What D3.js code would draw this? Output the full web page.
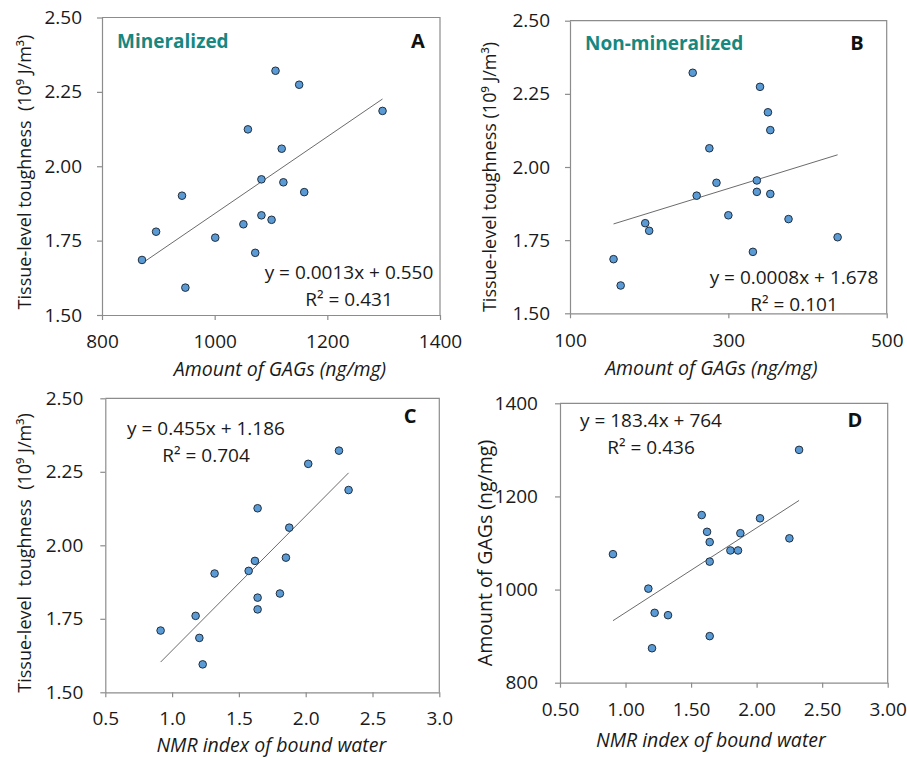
<!DOCTYPE html>
<html>
<head>
<meta charset="utf-8">
<script src="https://cdn.jsdelivr.net/npm/d3@7"></script>
<style>
  body { margin: 0; background: #fff; }
  text { font-family: "Open Sans", "Noto Sans", sans-serif; fill: #1a1a1a; white-space: pre; }
</style>
</head>
<body>
<div id="chart"></div>
<script>
// A: mineralized, GAGs vs toughness
var gagsA  = [1108, 1150, 1298, 1059, 1119, 1083, 1122, 1159, 942, 1083, 1101, 1051, 896, 1001, 1072, 871, 948];
var toughA = [2.321, 2.274, 2.186, 2.124, 2.059, 1.956, 1.946, 1.913, 1.901, 1.835, 1.820, 1.805, 1.780, 1.760, 1.709, 1.685, 1.592];
// B: non-mineralized, GAGs vs toughness
var gagsB  = [255, 340, 350, 353, 276, 285, 336, 336, 353, 260, 300, 376, 195, 200, 438, 331, 155, 164];
var toughB = [2.322, 2.274, 2.187, 2.126, 2.064, 1.946, 1.954, 1.915, 1.908, 1.902, 1.835, 1.822, 1.808, 1.782, 1.760, 1.710, 1.685, 1.595];
// C: NMR bound water vs toughness
var nmrC   = [2.249, 2.019, 2.321, 1.640, 1.877, 1.852, 1.620, 1.573, 1.318, 1.807, 1.640, 1.640, 1.176, 0.914, 1.204, 1.229];
var toughC = [2.322, 2.277, 2.188, 2.126, 2.060, 1.958, 1.947, 1.913, 1.904, 1.836, 1.822, 1.782, 1.760, 1.710, 1.685, 1.595];
// D: NMR bound water vs GAGs
var nmrD   = [2.324, 1.581, 2.026, 1.622, 1.876, 2.250, 1.642, 1.800, 1.858, 0.904, 1.642, 1.174, 1.222, 1.324, 1.642, 1.202];
var gagsD  = [1300, 1160, 1153, 1124, 1121, 1110, 1102, 1084, 1084, 1076, 1060, 1002, 950, 945, 900, 874];

var toughTicks = [1.50, 1.75, 2.00, 2.25, 2.50];
var gagsTicksA = [800, 1000, 1200, 1400];
var gagsTicksB = [100, 300, 500];
var nmrTicksC  = [0.5, 1.0, 1.5, 2.0, 2.5, 3.0];
var nmrTicksD  = [0.50, 1.00, 1.50, 2.00, 2.50, 3.00];
var gagsTicksD = [800, 1000, 1200, 1400];

var equations = ["y = 0.0013x + 0.550", "y = 0.0008x + 1.678", "y = 0.455x + 1.186", "y = 183.4x + 764"];
var r2Labels  = ["R\u00b2 = 0.431", "R\u00b2 = 0.101", "R\u00b2 = 0.704", "R\u00b2 = 0.436"];
var letters   = ["A", "B", "C", "D"];
var groupLabels = ["Mineralized", "Non-mineralized", "", ""];

var yTitles = [
  "Tissue-level toughness  (10\u2079 J/m\u00b3)",
  "Tissue-level toughness (10\u2079 J/m\u00b3)",
  "Tissue-level  toughness  (10\u2079 J/m\u00b3)",
  "Amount of GAGs (ng/mg)"
];
var gagsTitle = "Amount of GAGs (ng/mg)";
var nmrTitle = "NMR index of bound water";

var svg = d3.select('#chart').append('svg')
  .attr('width', 907).attr('height', 758);

function fit(xs, ys) {
  var mx = d3.mean(xs), my = d3.mean(ys);
  var sxy = d3.sum(xs, function(d, i){ return (d - mx) * (ys[i] - my); });
  var sxx = d3.sum(xs, function(d){ return (d - mx) * (d - mx); });
  var b = sxy / sxx;
  return { b: b, a: my - b * mx };
}

function panel(o) {
  var x = d3.scaleLinear().domain(o.xDomain).range([o.left, o.right]);
  var y = d3.scaleLinear().domain(o.yDomain).range([o.bottom, o.top]);
  var g = svg.append('g');

  // top and right frame
  g.append('path')
    .attr('d', 'M' + o.left + ',' + o.top + 'H' + o.right + 'V' + o.bottom)
    .style('fill', 'none').style('stroke', '#8c8c8c').style('stroke-width', 1.2);

  var xa = g.append('g').attr('transform', 'translate(0,' + o.bottom + ')')
    .call(d3.axisBottom(x).tickValues(o.xTicks).tickFormat(o.xFmt).tickSize(5).tickSizeOuter(0).tickPadding(o.xPad));
  var ya = g.append('g').attr('transform', 'translate(' + o.left + ',0)')
    .call(d3.axisLeft(y).tickValues(o.yTicks).tickFormat(o.yFmt).tickSize(5).tickSizeOuter(0).tickPadding(o.yPad));
  [xa, ya].forEach(function(a){
    a.selectAll('path, line').style('stroke', '#8c8c8c').style('stroke-width', 1.2);
    a.selectAll('text').style('font-size', '19px').style('fill', '#1a1a1a');
  });

  // trend line over the data range
  var f = fit(o.xs, o.ys);
  var ext = d3.extent(o.xs);
  g.append('line')
    .attr('x1', x(ext[0])).attr('y1', y(f.a + f.b * ext[0]))
    .attr('x2', x(ext[1])).attr('y2', y(f.a + f.b * ext[1]))
    .style('stroke', '#6b6b6b').style('stroke-width', 1);

  g.selectAll('circle.pt').data(o.xs).enter().append('circle')
    .attr('class', 'pt')
    .attr('cx', function(d){ return x(d); })
    .attr('cy', function(d, i){ return y(o.ys[i]); })
    .attr('r', 3.8)
    .style('fill', '#5b9bd5').style('stroke', '#1f2f40').style('stroke-width', 1);

  // axis titles
  g.append('text')
    .attr('x', (o.left + o.right) / 2 + o.xTitleDx).attr('y', o.xTitleY)
    .attr('text-anchor', 'middle')
    .style('font-size', '19.5px').style('font-style', 'italic')
    .text(o.xTitle);
  g.append('text')
    .attr('transform', 'translate(' + o.yTitleX + ',' + o.yTitleCy + ') rotate(-90)')
    .attr('text-anchor', 'middle')
    .style('font-size', o.yTitleSize + 'px')
    .text(yTitles[o.i]);

  // labels inside the plot
  g.append('text').attr('x', o.letterX).attr('y', o.letterY)
    .attr('text-anchor', 'middle')
    .style('font-size', '20px').style('font-weight', 'bold').style('fill', '#111')
    .text(letters[o.i]);
  if (groupLabels[o.i]) {
    g.append('text').attr('x', o.left + 15).attr('y', o.letterY)
      .style('font-size', '19px').style('font-weight', 'bold').style('fill', '#17877f')
      .text(groupLabels[o.i]);
  }
  g.append('text').attr('x', o.eqX).attr('y', o.eqY)
    .attr('text-anchor', 'middle').style('font-size', '19px')
    .text(equations[o.i]);
  g.append('text').attr('x', o.eqX).attr('y', o.eqY + o.eqGap)
    .attr('text-anchor', 'middle').style('font-size', '19px')
    .text(r2Labels[o.i]);
}

var f2 = d3.format('.2f'), f0 = d3.format('d'), f1 = d3.format('.1f');

panel({ i: 0, xs: gagsA, ys: toughA, xDomain: [800, 1400], yDomain: [1.5, 2.5],
  xTicks: gagsTicksA, yTicks: toughTicks, xFmt: f0, yFmt: f2, xPad: 15, yPad: 15,
  left: 102, right: 440, top: 17.5, bottom: 315,
  xTitle: gagsTitle, xTitleY: 376, xTitleDx: 9, yTitleX: 31, yTitleCy: 172, yTitleSize: 18,
  letterX: 418, letterY: 48, eqX: 349, eqY: 279, eqGap: 27 });

panel({ i: 1, xs: gagsB, ys: toughB, xDomain: [100, 500], yDomain: [1.5, 2.5],
  xTicks: gagsTicksB, yTicks: toughTicks, xFmt: f0, yFmt: f2, xPad: 15, yPad: 15,
  left: 570, right: 886.7, top: 20.7, bottom: 313.3,
  xTitle: gagsTitle, xTitleY: 375, xTitleDx: -17, yTitleX: 496, yTitleCy: 177, yTitleSize: 18,
  letterX: 857, letterY: 50, eqX: 794, eqY: 284, eqGap: 27 });

panel({ i: 2, xs: nmrC, ys: toughC, xDomain: [0.5, 3.0], yDomain: [1.5, 2.5],
  xTicks: nmrTicksC, yTicks: toughTicks, xFmt: f1, yFmt: f2, xPad: 14, yPad: 17,
  left: 105.3, right: 439.3, top: 398.3, bottom: 692.3,
  xTitle: nmrTitle, xTitleY: 752, xTitleDx: -1, yTitleX: 31, yTitleCy: 553, yTitleSize: 18,
  letterX: 410, letterY: 423, eqX: 206, eqY: 435, eqGap: 27 });

panel({ i: 3, xs: nmrD, ys: gagsD, xDomain: [0.5, 3.0], yDomain: [800, 1400],
  xTicks: nmrTicksD, yTicks: gagsTicksD, xFmt: f2, yFmt: f0, xPad: 15, yPad: 17,
  left: 560, right: 887.7, top: 403.3, bottom: 682.7,
  xTitle: nmrTitle, xTitleY: 747, xTitleDx: -13, yTitleX: 492, yTitleCy: 553, yTitleSize: 19.5,
  letterX: 855, letterY: 427, eqX: 651, eqY: 427, eqGap: 27 });
</script>
</body>
</html>
